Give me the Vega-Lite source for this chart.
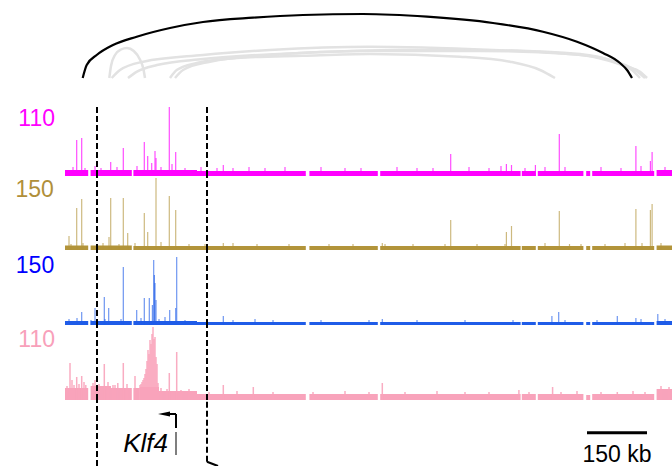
{
  "$schema": "https://vega.github.io/schema/vega-lite/v6.json",
  "padding": 0,
  "spacing": 0,
  "bounds": "flush",
  "config": {"view": {"stroke": null}, "concat": {"spacing": 0}, "text": {"font": "Liberation Sans"}},
  "datasets": {
    "arcs": [
      {"a":"k","x":44.25,"h":23},{"a":"k","x":54.25,"h":36},{"a":"k","x":79.25,"h":46},{"a":"k","x":120,"h":56},{"a":"k","x":179.25,"h":64.3},{"a":"k","x":262.5,"h":73},{"a":"k","x":345,"h":79},{"a":"k","x":470,"h":83.3},{"a":"k","x":595,"h":86},{"a":"k","x":745,"h":87},{"a":"k","x":905,"h":84.3},{"a":"k","x":1070,"h":78},{"a":"k","x":1195,"h":69.3},{"a":"k","x":1280,"h":59.3},{"a":"k","x":1345,"h":48},{"a":"k","x":1387.5,"h":38},{"a":"k","x":1405,"h":31},{"a":"k","x":1417.5,"h":23},
      {"a":"g1","x":110.75,"h":23},{"a":"g1","x":115,"h":35},{"a":"g1","x":125,"h":46},{"a":"g1","x":140,"h":51.5},{"a":"g1","x":155,"h":53},{"a":"g1","x":172,"h":50},{"a":"g1","x":188,"h":41},{"a":"g1","x":196,"h":32},{"a":"g1","x":200,"h":23},
      {"a":"g2","x":116.75,"h":23},{"a":"g2","x":137.5,"h":31},{"a":"g2","x":195.75,"h":39.3},{"a":"g2","x":345,"h":46},{"a":"g2","x":512.5,"h":51},{"a":"g2","x":762.5,"h":54.3},{"a":"g2","x":1070,"h":51},{"a":"g2","x":1237.5,"h":47.7},{"a":"g2","x":1320,"h":44.3},{"a":"g2","x":1405,"h":34.3},{"a":"g2","x":1437.5,"h":29.3},{"a":"g2","x":1455,"h":23},
      {"a":"g3","x":157.5,"h":23},{"a":"g3","x":180,"h":29.3},{"a":"g3","x":230,"h":36},{"a":"g3","x":345,"h":42},{"a":"g3","x":587.5,"h":48},{"a":"g3","x":837.5,"h":51},{"a":"g3","x":1087.5,"h":50.5},{"a":"g3","x":1287.5,"h":47},{"a":"g3","x":1375,"h":39},{"a":"g3","x":1417.5,"h":31},{"a":"g3","x":1437.5,"h":23},
      {"a":"g4","x":262.5,"h":23},{"a":"g4","x":279.25,"h":31},{"a":"g4","x":329.25,"h":38},{"a":"g4","x":429.25,"h":43},{"a":"g4","x":595,"h":45.3},{"a":"g4","x":762.5,"h":47},{"a":"g4","x":987.5,"h":44.3},{"a":"g4","x":1112.5,"h":39.3},{"a":"g4","x":1187.5,"h":31},{"a":"g4","x":1225,"h":23},
      {"a":"g5","x":275,"h":23},{"a":"g5","x":295,"h":31},{"a":"g5","x":362.5,"h":39.3},{"a":"g5","x":512.5,"h":46},{"a":"g5","x":762.5,"h":50},{"a":"g5","x":1037.5,"h":50},{"a":"g5","x":1262.5,"h":47},{"a":"g5","x":1362.5,"h":41},{"a":"g5","x":1425,"h":31},{"a":"g5","x":1450,"h":23}
    ],
    "band": [
      {"t":"m","x":0,"x2":58,"v":6},{"t":"m","x":64,"x2":167,"v":6},{"t":"m","x":171,"x2":330,"v":6},{"t":"m","x":330,"x2":602,"v":5},{"t":"m","x":611,"x2":782,"v":5},{"t":"m","x":788,"x2":1139,"v":5},{"t":"m","x":1142,"x2":1177,"v":5},{"t":"m","x":1182,"x2":1296,"v":5},{"t":"m","x":1303,"x2":1313,"v":5},{"t":"m","x":1318,"x2":1473,"v":5},{"t":"m","x":1479,"x2":1518,"v":6},
      {"t":"o","x":0,"x2":58,"v":4.5},{"t":"o","x":64,"x2":167,"v":4.5},{"t":"o","x":171,"x2":602,"v":4},{"t":"o","x":611,"x2":782,"v":4},{"t":"o","x":788,"x2":1139,"v":4},{"t":"o","x":1142,"x2":1177,"v":4},{"t":"o","x":1182,"x2":1296,"v":4},{"t":"o","x":1303,"x2":1313,"v":4},{"t":"o","x":1318,"x2":1473,"v":4},{"t":"o","x":1479,"x2":1518,"v":4.5},
      {"t":"b","x":0,"x2":58,"v":4},{"t":"b","x":64,"x2":167,"v":4},{"t":"b","x":171,"x2":330,"v":4},{"t":"b","x":330,"x2":602,"v":3},{"t":"b","x":611,"x2":782,"v":3},{"t":"b","x":788,"x2":1139,"v":3},{"t":"b","x":1142,"x2":1177,"v":3},{"t":"b","x":1182,"x2":1296,"v":3},{"t":"b","x":1303,"x2":1313,"v":3},{"t":"b","x":1318,"x2":1473,"v":3},{"t":"b","x":1479,"x2":1518,"v":4},
      {"t":"p","x":0,"x2":58,"v":12},{"t":"p","x":64,"x2":115,"v":14},{"t":"p","x":115,"x2":167,"v":12},{"t":"p","x":171,"x2":187,"v":12},{"t":"p","x":187,"x2":235,"v":13},{"t":"p","x":235,"x2":330,"v":9},{"t":"p","x":330,"x2":602,"v":6},{"t":"p","x":611,"x2":782,"v":6},{"t":"p","x":788,"x2":1139,"v":6},{"t":"p","x":1142,"x2":1177,"v":6},{"t":"p","x":1182,"x2":1296,"v":6},{"t":"p","x":1303,"x2":1313,"v":5},{"t":"p","x":1318,"x2":1473,"v":6},{"t":"p","x":1479,"x2":1518,"v":11}
    ],
    "spk": [
      {"t":"m","x":29.25,"v":36},{"t":"m","x":41.75,"v":38},{"t":"m","x":114.25,"v":14},{"t":"m","x":145.75,"v":28},{"t":"m","x":198.25,"v":34},{"t":"m","x":206.75,"v":20},{"t":"m","x":216.75,"v":13},{"t":"m","x":225,"v":25},{"t":"m","x":227.5,"v":18},{"t":"m","x":260.75,"v":69},{"t":"m","x":267.5,"v":12},{"t":"m","x":276.75,"v":24},{"t":"m","x":395.75,"v":11},{"t":"m","x":964.25,"v":22},{"t":"m","x":1103.5,"v":12},{"t":"m","x":1116.25,"v":11},{"t":"m","x":1176,"v":11},{"t":"m","x":1235.75,"v":42},{"t":"m","x":1427.25,"v":30},{"t":"m","x":1463.5,"v":15},{"t":"m","x":1467.75,"v":24},
      {"t":"m","x":20,"v":9},{"t":"m","x":50,"v":8},{"t":"m","x":75,"v":10},{"t":"m","x":90,"v":8},{"t":"m","x":130,"v":9},{"t":"m","x":180,"v":10},{"t":"m","x":240,"v":9},{"t":"m","x":300,"v":8},{"t":"m","x":340,"v":9},{"t":"m","x":380,"v":8},{"t":"m","x":420,"v":8},{"t":"m","x":460,"v":9},{"t":"m","x":500,"v":8},{"t":"m","x":550,"v":9},{"t":"m","x":640,"v":9},{"t":"m","x":700,"v":8},{"t":"m","x":740,"v":8},{"t":"m","x":830,"v":9},{"t":"m","x":880,"v":8},{"t":"m","x":920,"v":8},{"t":"m","x":1010,"v":9},{"t":"m","x":1060,"v":8},{"t":"m","x":1090,"v":10},{"t":"m","x":1150,"v":8},{"t":"m","x":1200,"v":9},{"t":"m","x":1250,"v":9},{"t":"m","x":1340,"v":9},{"t":"m","x":1390,"v":8},{"t":"m","x":1440,"v":10},{"t":"m","x":1500,"v":9},
      {"t":"o","x":10,"v":14},{"t":"o","x":29.25,"v":42},{"t":"o","x":41.75,"v":51},{"t":"o","x":110,"v":13},{"t":"o","x":114.25,"v":52},{"t":"o","x":145.75,"v":52},{"t":"o","x":156.75,"v":17},{"t":"o","x":198.25,"v":37},{"t":"o","x":206.75,"v":18},{"t":"o","x":227.5,"v":72},{"t":"o","x":260.75,"v":54},{"t":"o","x":276.75,"v":40},{"t":"o","x":395.75,"v":7},{"t":"o","x":793.25,"v":7},{"t":"o","x":964.25,"v":30},{"t":"o","x":1103.5,"v":18},{"t":"o","x":1116.25,"v":24},{"t":"o","x":1235.75,"v":39},{"t":"o","x":1261.25,"v":6},{"t":"o","x":1427.25,"v":41},{"t":"o","x":1442.5,"v":7},{"t":"o","x":1463.5,"v":40},{"t":"o","x":1467.75,"v":46},
      {"t":"o","x":15,"v":6},{"t":"o","x":45,"v":7},{"t":"o","x":95,"v":7},{"t":"o","x":135,"v":6},{"t":"o","x":175,"v":7},{"t":"o","x":240,"v":8},{"t":"o","x":310,"v":6},{"t":"o","x":350,"v":6},{"t":"o","x":420,"v":7},{"t":"o","x":480,"v":6},{"t":"o","x":560,"v":6},{"t":"o","x":660,"v":6},{"t":"o","x":720,"v":6},{"t":"o","x":800,"v":6},{"t":"o","x":870,"v":6},{"t":"o","x":950,"v":6},{"t":"o","x":1030,"v":6},{"t":"o","x":1100,"v":6},{"t":"o","x":1200,"v":7},{"t":"o","x":1290,"v":6},{"t":"o","x":1350,"v":6},{"t":"o","x":1400,"v":7},{"t":"o","x":1490,"v":7},
      {"t":"b","x":41.75,"v":13},{"t":"b","x":75,"v":17},{"t":"b","x":98.25,"v":28},{"t":"b","x":109.25,"v":17},{"t":"b","x":145.75,"v":58},{"t":"b","x":179.25,"v":15},{"t":"b","x":198.25,"v":27},{"t":"b","x":210.75,"v":27},{"t":"b","x":218.5,"v":20},{"t":"b","x":221.75,"v":65},{"t":"b","x":223.5,"v":50},{"t":"b","x":225,"v":42},{"t":"b","x":227.5,"v":25},{"t":"b","x":261.75,"v":15},{"t":"b","x":276.75,"v":17},{"t":"b","x":279.25,"v":68},{"t":"b","x":395.75,"v":9},{"t":"b","x":475,"v":6},{"t":"b","x":793.25,"v":6},{"t":"b","x":1217.25,"v":9},{"t":"b","x":1234.25,"v":13},{"t":"b","x":1380.75,"v":9},{"t":"b","x":1427.25,"v":7},{"t":"b","x":1482,"v":11},
      {"t":"b","x":10,"v":6},{"t":"b","x":30,"v":7},{"t":"b","x":65,"v":5},{"t":"b","x":100,"v":6},{"t":"b","x":140,"v":6},{"t":"b","x":190,"v":7},{"t":"b","x":235,"v":6},{"t":"b","x":250,"v":8},{"t":"b","x":300,"v":5},{"t":"b","x":420,"v":5},{"t":"b","x":520,"v":5},{"t":"b","x":640,"v":5},{"t":"b","x":760,"v":5},{"t":"b","x":880,"v":5},{"t":"b","x":1000,"v":5},{"t":"b","x":1120,"v":5},{"t":"b","x":1250,"v":5},{"t":"b","x":1330,"v":5},{"t":"b","x":1440,"v":6},{"t":"b","x":1500,"v":6},
      {"t":"p","x":12.5,"v":37},{"t":"p","x":17.5,"v":20},{"t":"p","x":22.5,"v":15},{"t":"p","x":29.25,"v":23},{"t":"p","x":41.75,"v":24},{"t":"p","x":47.5,"v":18},{"t":"p","x":75,"v":20},{"t":"p","x":98.25,"v":36},{"t":"p","x":107.5,"v":18},{"t":"p","x":125,"v":15},{"t":"p","x":145.75,"v":37},{"t":"p","x":175,"v":24},
      {"t":"p","x":187.5,"v":15},{"t":"p","x":190,"v":16},{"t":"p","x":192.5,"v":18},{"t":"p","x":195,"v":20},{"t":"p","x":197.5,"v":22},{"t":"p","x":200,"v":26},{"t":"p","x":202.5,"v":31},{"t":"p","x":205,"v":39},{"t":"p","x":207.5,"v":50},{"t":"p","x":210,"v":46},{"t":"p","x":212.5,"v":60},{"t":"p","x":215,"v":56},{"t":"p","x":217.5,"v":66},{"t":"p","x":220,"v":73},{"t":"p","x":222.5,"v":61},{"t":"p","x":225,"v":63},{"t":"p","x":227.5,"v":43},{"t":"p","x":230,"v":36},{"t":"p","x":232.5,"v":17},
      {"t":"p","x":260.75,"v":27},{"t":"p","x":279.25,"v":48},{"t":"p","x":395.75,"v":15},{"t":"p","x":470.75,"v":13},{"t":"p","x":793.25,"v":17},{"t":"p","x":1134.75,"v":10},{"t":"p","x":1219,"v":13},{"t":"p","x":1380.75,"v":8},
      {"t":"p","x":5,"v":14},{"t":"p","x":35,"v":16},{"t":"p","x":52,"v":15},{"t":"p","x":70,"v":17},{"t":"p","x":85,"v":16},{"t":"p","x":120,"v":15},{"t":"p","x":132,"v":17},{"t":"p","x":155,"v":16},{"t":"p","x":240,"v":12},{"t":"p","x":255,"v":11},{"t":"p","x":290,"v":10},{"t":"p","x":310,"v":11},{"t":"p","x":360,"v":8},{"t":"p","x":430,"v":9},{"t":"p","x":520,"v":8},{"t":"p","x":620,"v":8},{"t":"p","x":700,"v":9},{"t":"p","x":760,"v":8},{"t":"p","x":850,"v":8},{"t":"p","x":930,"v":9},{"t":"p","x":1000,"v":8},{"t":"p","x":1060,"v":8},{"t":"p","x":1160,"v":8},{"t":"p","x":1240,"v":8},{"t":"p","x":1280,"v":9},{"t":"p","x":1340,"v":8},{"t":"p","x":1420,"v":9},{"t":"p","x":1450,"v":8},{"t":"p","x":1490,"v":14},{"t":"p","x":1510,"v":13}
    ],
    "labels": [
      {"t":"m","x":-25,"v":50,"s":"110"},
      {"t":"o","x":-28,"v":52.7,"s":"150"},
      {"t":"b","x":-27,"v":52.3,"s":"150"},
      {"t":"p","x":-25,"v":52.7,"s":"110"}
    ]
  },
  "vconcat": [
    {
      "width": 672, "height": 101,
      "data": {"name": "arcs"},
      "encoding": {
        "x": {"field": "x", "type": "quantitative", "scale": {"domain": [-162.5, 1517.5], "nice": false, "zero": false}, "axis": null},
        "y": {"field": "h", "type": "quantitative", "scale": {"domain": [0, 101], "nice": false, "zero": false}, "axis": null},
        "detail": {"field": "a"}
      },
      "layer": [
        {"transform": [{"filter": "datum.a !== 'k'"}], "mark": {"type": "line", "interpolate": "monotone", "color": "#e2e2e2", "strokeWidth": 2.5}},
        {"transform": [{"filter": "datum.a === 'k'"}], "mark": {"type": "line", "interpolate": "monotone", "color": "#000000", "strokeWidth": 2.2}}
      ]
    },
    {
      "width": 672, "height": 75,
      "encoding": {
        "x": {"field": "x", "type": "quantitative", "scale": {"domain": [-162.5, 1517.5], "nice": false, "zero": false}, "axis": null},
        "y": {"field": "v", "type": "quantitative", "scale": {"domain": [0, 75], "nice": false, "zero": false}, "axis": null}
      },
      "layer": [
        {"data": {"name": "band"}, "transform": [{"filter": "datum.t === 'm'"}], "mark": {"type": "rect", "color": "#ff00ff"}, "encoding": {"x2": {"field": "x2"}, "y2": {"datum": 0}}},
        {"data": {"name": "spk"}, "transform": [{"filter": "datum.t === 'm'"}], "mark": {"type": "rule", "color": "#ff00ff", "strokeWidth": 1.2, "opacity": 0.7}, "encoding": {"y2": {"datum": 0}}},
        {"data": {"values": [{"x":80,"v":0,"v2":69},{"x":355,"v":0,"v2":69}]}, "mark": {"type": "rule", "color": "#000000", "strokeWidth": 2, "strokeDash": [6, 3]}, "encoding": {"y2": {"field": "v2"}}},
        {"data": {"name": "labels"}, "transform": [{"filter": "datum.t === 'm'"}], "mark": {"type": "text", "align": "right", "baseline": "alphabetic", "fontSize": 23, "color": "#ff00ff"}, "encoding": {"text": {"field": "s"}}}
      ]
    },
    {
      "width": 672, "height": 74,
      "encoding": {
        "x": {"field": "x", "type": "quantitative", "scale": {"domain": [-162.5, 1517.5], "nice": false, "zero": false}, "axis": null},
        "y": {"field": "v", "type": "quantitative", "scale": {"domain": [0, 74], "nice": false, "zero": false}, "axis": null}
      },
      "layer": [
        {"data": {"name": "band"}, "transform": [{"filter": "datum.t === 'o'"}], "mark": {"type": "rect", "color": "#b2943a"}, "encoding": {"x2": {"field": "x2"}, "y2": {"datum": 0}}},
        {"data": {"name": "spk"}, "transform": [{"filter": "datum.t === 'o'"}], "mark": {"type": "rule", "color": "#b2943a", "strokeWidth": 1.2, "opacity": 0.65}, "encoding": {"y2": {"datum": 0}}},
        {"data": {"values": [{"x":80,"v":0,"v2":74},{"x":355,"v":0,"v2":74}]}, "mark": {"type": "rule", "color": "#000000", "strokeWidth": 2, "strokeDash": [6, 3]}, "encoding": {"y2": {"field": "v2"}}},
        {"data": {"name": "labels"}, "transform": [{"filter": "datum.t === 'o'"}], "mark": {"type": "text", "align": "right", "baseline": "alphabetic", "fontSize": 23, "color": "#b08f3a"}, "encoding": {"text": {"field": "s"}}}
      ]
    },
    {
      "width": 672, "height": 75,
      "encoding": {
        "x": {"field": "x", "type": "quantitative", "scale": {"domain": [-162.5, 1517.5], "nice": false, "zero": false}, "axis": null},
        "y": {"field": "v", "type": "quantitative", "scale": {"domain": [0, 75], "nice": false, "zero": false}, "axis": null}
      },
      "layer": [
        {"data": {"name": "band"}, "transform": [{"filter": "datum.t === 'b'"}], "mark": {"type": "rect", "color": "#1f5ce8"}, "encoding": {"x2": {"field": "x2"}, "y2": {"datum": 0}}},
        {"data": {"name": "spk"}, "transform": [{"filter": "datum.t === 'b'"}], "mark": {"type": "rule", "color": "#1f5ce8", "strokeWidth": 1.2, "opacity": 0.65}, "encoding": {"y2": {"datum": 0}}},
        {"data": {"values": [{"x":80,"v":0,"v2":75},{"x":355,"v":0,"v2":75}]}, "mark": {"type": "rule", "color": "#000000", "strokeWidth": 2, "strokeDash": [6, 3]}, "encoding": {"y2": {"field": "v2"}}},
        {"data": {"name": "labels"}, "transform": [{"filter": "datum.t === 'b'"}], "mark": {"type": "text", "align": "right", "baseline": "alphabetic", "fontSize": 23, "color": "#0000ff"}, "encoding": {"text": {"field": "s"}}}
      ]
    },
    {
      "width": 672, "height": 75,
      "encoding": {
        "x": {"field": "x", "type": "quantitative", "scale": {"domain": [-162.5, 1517.5], "nice": false, "zero": false}, "axis": null},
        "y": {"field": "v", "type": "quantitative", "scale": {"domain": [0, 75], "nice": false, "zero": false}, "axis": null}
      },
      "layer": [
        {"data": {"name": "band"}, "transform": [{"filter": "datum.t === 'p'"}], "mark": {"type": "rect", "color": "#f8a3bb"}, "encoding": {"x2": {"field": "x2"}, "y2": {"datum": 0}}},
        {"data": {"name": "spk"}, "transform": [{"filter": "datum.t === 'p'"}], "mark": {"type": "rule", "color": "#f8a3bb", "strokeWidth": 1.5, "opacity": 0.9}, "encoding": {"y2": {"datum": 0}}},
        {"data": {"values": [{"x":80,"v":0,"v2":75},{"x":355,"v":0,"v2":75}]}, "mark": {"type": "rule", "color": "#000000", "strokeWidth": 2, "strokeDash": [6, 3]}, "encoding": {"y2": {"field": "v2"}}},
        {"data": {"name": "labels"}, "transform": [{"filter": "datum.t === 'p'"}], "mark": {"type": "text", "align": "right", "baseline": "alphabetic", "fontSize": 23, "color": "#f8a0ba"}, "encoding": {"text": {"field": "s"}}}
      ]
    },
    {
      "width": 672, "height": 66,
      "encoding": {
        "x": {"field": "x", "type": "quantitative", "scale": {"domain": [-162.5, 1517.5], "nice": false, "zero": false}, "axis": null},
        "y": {"field": "h", "type": "quantitative", "scale": {"domain": [0, 66], "nice": false, "zero": false}, "axis": null}
      },
      "layer": [
        {"data": {"values": [{"x":80,"h":0,"h2":66},{"x":355,"h":4.3,"h2":66}]}, "mark": {"type": "rule", "color": "#000000", "strokeWidth": 2, "strokeDash": [6, 3]}, "encoding": {"y2": {"field": "h2"}}},
        {"data": {"values": [{"x":355,"x2":382.5,"h":4.3,"h2":0},{"x":252.5,"x2":277.5,"h":52,"h2":52},{"x":277.5,"x2":277.5,"h":52,"h2":38}]}, "mark": {"type": "rule", "color": "#000000", "strokeWidth": 2}, "encoding": {"x2": {"field": "x2"}, "y2": {"field": "h2"}}},
        {"data": {"values": [{"x":277.5,"x2":277.5,"h":34,"h2":11}]}, "mark": {"type": "rule", "color": "#555555", "strokeWidth": 1.5}, "encoding": {"x2": {"field": "x2"}, "y2": {"field": "h2"}}},
        {"data": {"values": [{"x":1305,"x2":1455,"h":33.3,"h2":33.3}]}, "mark": {"type": "rule", "color": "#000000", "strokeWidth": 3}, "encoding": {"x2": {"field": "x2"}, "y2": {"field": "h2"}}},
        {"data": {"values": [{"x":247.5,"h":52}]}, "mark": {"type": "point", "shape": "M-1,0L1,-0.42L1,0.42Z", "size": 144, "filled": true, "color": "#000000", "opacity": 1}},
        {"data": {"values": [{"x":257.5,"h":14,"s":"Klf4"}]}, "mark": {"type": "text", "align": "right", "baseline": "alphabetic", "fontSize": 26, "fontStyle": "italic", "color": "#000000"}, "encoding": {"text": {"field": "s"}}},
        {"data": {"values": [{"x":1380,"h":4,"s":"150 kb"}]}, "mark": {"type": "text", "align": "center", "baseline": "alphabetic", "fontSize": 23, "color": "#000000"}, "encoding": {"text": {"field": "s"}}}
      ]
    }
  ]
}
